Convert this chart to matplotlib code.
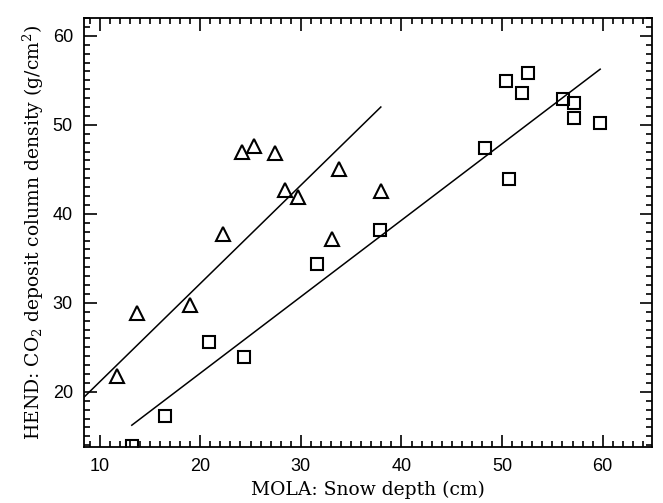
import numpy as np
import matplotlib
matplotlib.use("Agg")
from matplotlib import pyplot as plt
from matplotlib.ticker import MultipleLocator

# triangles
tri_x = [11.7, 13.7, 19.0, 22.25, 24.2, 25.3, 27.45, 28.4, 29.7, 33.1, 33.8, 37.95]
tri_y = [21.8, 28.9, 29.7, 37.7, 47.0, 47.6, 46.85, 42.7, 41.9, 37.2, 45.0, 42.55]

# squares
sq_x = [13.2, 16.5, 20.9, 24.4, 31.65, 37.9, 48.3, 50.7, 50.4, 52.6, 52.0, 56.1, 57.1, 57.1, 59.75]
sq_y = [13.9, 17.3, 25.6, 23.9, 34.4, 38.2, 47.4, 43.9, 54.9, 55.8, 53.6, 52.9, 52.4, 50.75, 50.2]

# fit lines (end points)
tri_fit_x = [8.0, 37.95]
tri_fit_y = [18.9, 52.0]
sq_fit_x = [13.2, 59.75]
sq_fit_y = [16.25, 56.25]


def main():
    plt.rcParams['mathtext.fontset'] = 'dejavuserif'
    fig = plt.figure(figsize=(6.63, 5.03), dpi=100)
    ax = fig.add_axes([0.1267, 0.1113, 0.8567, 0.8529])

    ax.plot(tri_x, tri_y, linestyle='none', marker='^', ms=9.5, mfc='none',
            mec='black', mew=1.5)
    ax.plot(sq_x, sq_y, linestyle='none', marker='s', ms=9, mfc='none',
            mec='black', mew=1.5)
    ax.plot(tri_fit_x, tri_fit_y, color='black', lw=1.1)
    ax.plot(sq_fit_x, sq_fit_y, color='black', lw=1.1)

    ax.set_xlim(8.45, 64.9)
    ax.set_ylim(13.8, 62.0)
    ax.xaxis.set_major_locator(MultipleLocator(10))
    ax.xaxis.set_minor_locator(MultipleLocator(1))
    ax.yaxis.set_major_locator(MultipleLocator(10))
    ax.yaxis.set_minor_locator(MultipleLocator(1))
    ax.tick_params(which='both', direction='in', top=True, right=True,
                   labelsize=13, width=1.2, pad=8)
    ax.tick_params(which='major', length=9)
    ax.tick_params(which='minor', length=4)
    for lab in ax.get_xticklabels() + ax.get_yticklabels():
        lab.set_family('Liberation Sans')
    for sp in ax.spines.values():
        sp.set_linewidth(1.3)

    ax.set_xlabel("MOLA: Snow depth (cm)", family='DejaVu Serif',
                  fontsize=13.5, labelpad=4)
    ax.set_ylabel("HEND: CO$_2$ deposit column density (g/cm$^2$)",
                  family='DejaVu Serif', fontsize=13.5, labelpad=5)

    fig.savefig("out.png", dpi=100)


if __name__ == '__main__':
    main()
